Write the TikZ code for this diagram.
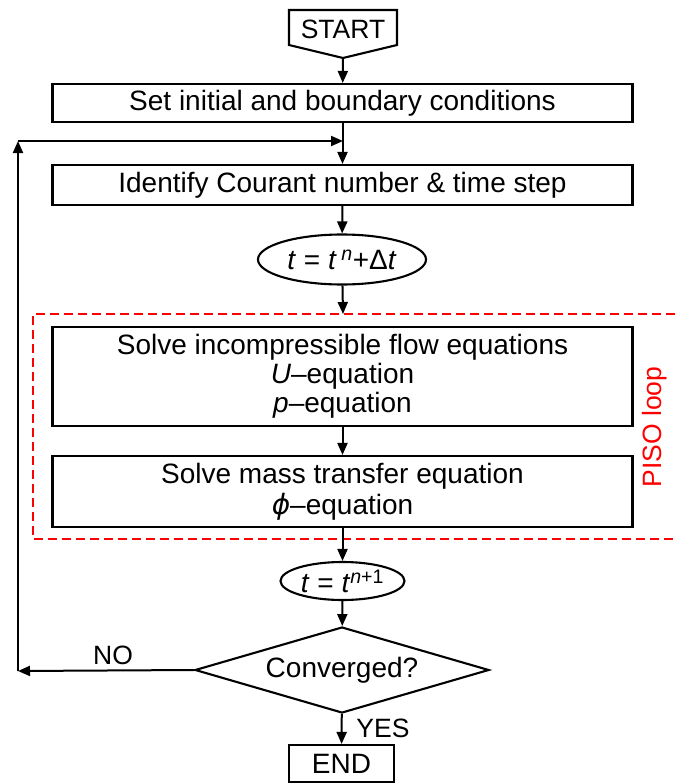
\documentclass[tikz,border=0pt]{standalone}
\usepackage{fontspec}
\setmainfont{Liberation Sans}
\newfontfamily\greekfont{DejaVu Sans}
\usetikzlibrary{arrows.meta,shapes.geometric}
\begin{document}
\begin{tikzpicture}[x=1pt,y=-1pt,
  every node/.style={font=\fontsize{28}{29}\selectfont},
  flowbox/.style={draw,line width=2.1pt,minimum width=580pt,inner sep=0pt,align=center},
  oval/.style={draw,ellipse,line width=2.1pt,inner sep=0pt},
  link/.style={line width=2pt,-{Triangle[length=12pt,width=10pt]}},
  piso/.style={draw=red,line width=2.2pt,dash pattern=on 9pt off 5pt},
  tag/.style={font=\fontsize{26.5}{28}\selectfont}]
\useasboundingbox (0,0) rectangle (675,784);

% start terminal (off-page connector shape)
\node[font=\fontsize{26.5}{28}\selectfont] (start) at (343,29) {START};
\coordinate (startTip) at (343,58);
\draw[line width=2.1pt,line join=miter] (289,45) -- (289,10) -- (397,10) -- (397,45) -- (startTip) -- cycle;

% main sequence
\node[flowbox,minimum height=38pt] (init) at (342.5,103) {Set initial and boundary conditions};
\node[flowbox,minimum height=40pt] (ident) at (342.5,185) {Identify Courant number \& time step};
\node[oval,minimum width=168pt,minimum height=50pt] (tstep) at (342,259.5)
  {\textit{t} = \textit{t}\,\textsuperscript{\textit{n}}+Δ\textit{t}};
\node[flowbox,minimum height=99pt] (flow) at (342.5,376.5)
  {\rule{0pt}{6pt}Solve incompressible flow equations\\ \textit{U}–equation\\ \textit{p}–equation};
\node[flowbox,minimum height=71pt,font=\fontsize{28}{31}\selectfont] (mass) at (342.5,491.5)
  {Solve mass transfer equation\\ {\greekfont\itshape ϕ}–equation};
\node[oval,minimum width=124pt,minimum height=38pt] (tnext) at (342.5,581)
  {\textit{t} = \textit{t}\textsuperscript{\textit{n}+1}};
\node[draw,diamond,aspect=3.42,line width=2.1pt,inner sep=0pt,minimum width=294pt,minimum height=86pt] (conv) at (342,670)
  {Converged?};
\node[draw,line width=2.1pt,minimum width=105pt,minimum height=37pt,inner sep=0pt] (finish) at (341.5,763.5) {END};

% PISO loop frame (open on the right)
\coordinate (pisoTop) at (343,314);
\draw[piso] (675,314) -- (33,314) -- (33,539) -- (675,539);
\node[tag,text=red,rotate=90] (pisoLabel) at (655,427) {PISO loop};

% connectors
\coordinate (join) at (343,141);
\coordinate (noTurn) at (18,671);
\coordinate (loopTop) at (18,141);
\draw[link] (startTip) -- (init);
\draw[link] (init) -- (ident);
\draw[link] (ident) -- (tstep);
\draw[link] (tstep) -- (pisoTop);
\draw[link] (flow) -- (mass);
\draw[link] (mass) -- (tnext);
\draw[link] (tnext) -- (conv);
\draw[link] (conv) -- (finish);
\draw[link] (conv.west) -- (noTurn);
\draw[link] (noTurn) -- (loopTop);
\draw[link] (loopTop) -- (join);

% branch labels
\node[tag] (noLabel) at (113,655) {NO};
\node[tag] (yesLabel) at (383,728) {YES};
\end{tikzpicture}
\end{document}
